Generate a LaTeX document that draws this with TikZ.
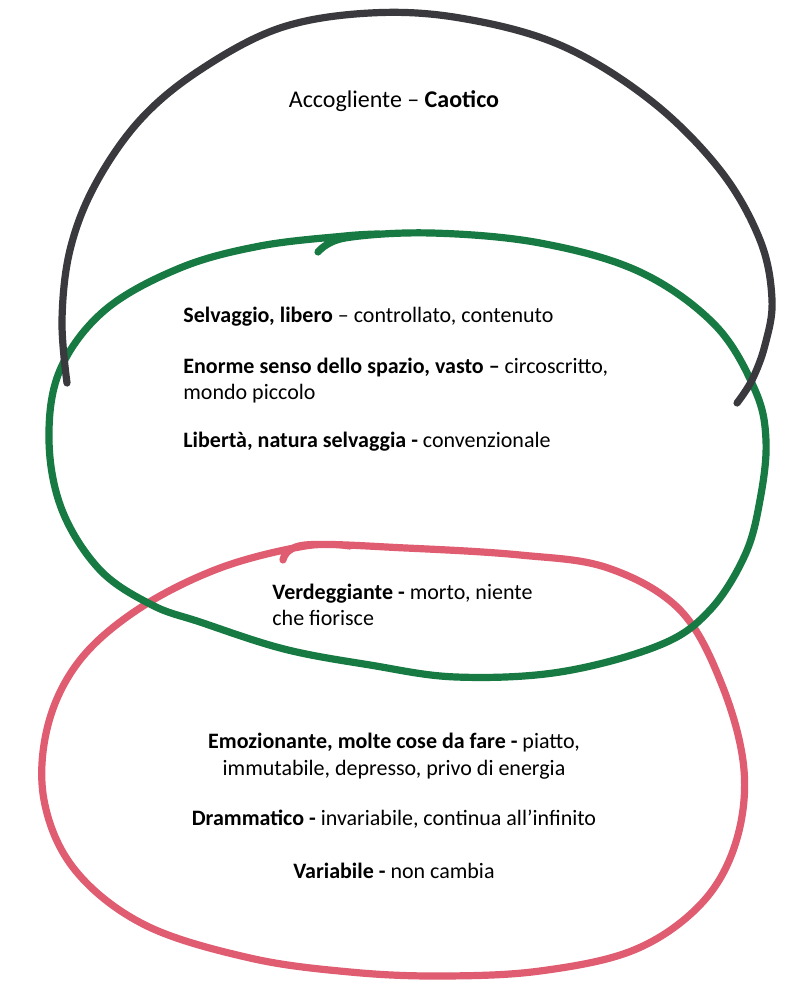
\documentclass[tikz,border=0pt]{standalone}
\usepackage{fontspec}
\setmainfont{Carlito}
\usetikzlibrary{positioning}

\definecolor{loopblack}{RGB}{58,58,62}
\definecolor{loopgreen}{RGB}{22,122,66}
\definecolor{loopred}{RGB}{224,92,112}

\begin{document}
\begin{tikzpicture} [x=0.5pt, y=-0.5pt,
    loop/.style = {line width=3.6pt, line cap=round, line join=round},
    txt/.style = {inner sep=0pt, font=\fontsize{11}{13}\selectfont},
    midtxt/.style = {txt, anchor=base, align=center, font=\fontsize{11}{13.5}\selectfont}]

\useasboundingbox [fill=white] (0,0) rectangle (795,988);

% red loop
\draw [loop, loopred] plot [smooth, tension=0.6] coordinates {
    (283,560) (305,545) (406,548) (520,555) (608,568) (680,610) (722,685)
    (744,770) (735,845) (700,905) (634,950) (540,971) (441,976) (350,972)
    (250,958) (145,925) (75,870) (44,800) (48,725) (80,660) (140,608)
    (220,568) (305,546) (350,546)};

% green loop
\draw [loop, loopgreen] plot [smooth, tension=0.6] coordinates {
    (318,252) (345,238) (431,233) (540,243) (640,272) (715,325) (755,390)
    (766,441) (760,500) (745,555) (710,610) (660,645) (560,672) (456,677)
    (370,665) (284,649) (200,622) (152,605) (100,570) (62,510) (49,440)
    (60,370) (105,310) (180,268) (260,246) (345,236) (380,234)};

% black loop
\draw [loop, loopblack] plot [smooth, tension=0.6] coordinates {
    (67,383) (62,320) (70,250) (95,185) (140,120) (200,70) (280,28)
    (370,13) (460,18) (560,45) (650,100) (720,170) (760,240) (772,300)
    (765,345) (752,380) (737,403)};

\node (acc) [txt, anchor=base, font=\fontsize{12}{14}\selectfont] at (394,108)
    {Accogliente -- \textbf{Caotico}};

\node (sel) [txt, anchor=base west] at (183,323)
    {\textbf{Selvaggio, libero} -- controllato, contenuto};
\node (eno) [txt, anchor=base west, align=left] at (183,399)
    {\textbf{Enorme senso dello spazio, vasto --} circoscritto,\\mondo piccolo};
\node (lib) [txt, anchor=base west] at (183,447)
    {\textbf{Libertà, natura selvaggia -} convenzionale};

\node (ver) [txt, anchor=base west, align=left] at (272,625)
    {\textbf{Verdeggiante -} morto, niente\\che fiorisce};

\node (emo) [midtxt] at (394,775)
    {\textbf{Emozionante, molte cose da fare -} piatto,\\immutabile, depresso, privo di energia};
\node (dra) [midtxt] at (394,825)
    {\textbf{Drammatico -} invariabile, continua all'infinito};
\node (var) [midtxt] at (394,878)
    {\textbf{Variabile -} non cambia};

\end{tikzpicture}
\end{document}
